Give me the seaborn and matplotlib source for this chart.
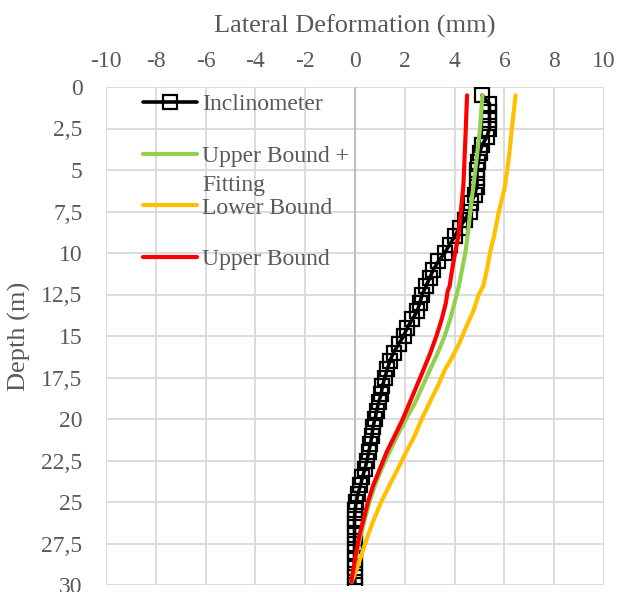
import matplotlib
matplotlib.use("Agg")
import matplotlib.pyplot as plt
import seaborn as sns
import pandas as pd
from matplotlib.lines import Line2D

# ---------------- data ----------------
incl_depth = [0.5, 1.0, 1.5, 2.0, 2.5, 3.0, 3.5, 4.0, 4.5, 5.0, 5.5, 6.0, 6.5, 7.0, 7.5,
              8.0, 8.5, 9.0, 9.5, 10.0, 10.5, 11.0, 11.5, 12.0, 12.5, 13.0, 13.5, 14.0,
              14.5, 15.0, 15.5, 16.0, 16.5, 17.0, 17.5, 18.0, 18.5, 19.0, 19.5, 20.0,
              20.5, 21.0, 21.5, 22.0, 22.5, 23.0, 23.5, 24.0, 24.5, 25.0, 25.5, 26.0,
              26.5, 27.0, 27.5, 28.0, 28.5, 29.0, 29.5, 30.0]
incl_x = [5.1, 5.4, 5.4, 5.4, 5.4, 5.3, 5.1, 5.0, 4.95, 4.9, 4.9, 4.9, 4.8, 4.65, 4.6,
          4.4, 4.2, 4.0, 3.8, 3.6, 3.35, 3.15, 3.0, 2.85, 2.7, 2.6, 2.5, 2.3,
          2.1, 1.95, 1.75, 1.55, 1.4, 1.3, 1.2, 1.1, 1.05, 0.95, 0.87, 0.8,
          0.72, 0.68, 0.62, 0.55, 0.48, 0.4, 0.3, 0.22, 0.12, 0.05, 0.0, -0.02,
          -0.02, -0.02, -0.02, -0.02, -0.02, -0.02, -0.02, 0.0]

green_depth = [0.5, 2.5, 5, 6, 7.5, 9, 10, 11, 12, 13, 14, 15, 16, 17, 18, 19, 20,
               21, 22, 23, 24, 25, 26, 27, 28, 29, 29.8]
green_x = [5.12, 5.02, 4.83, 4.75, 4.63, 4.52, 4.43, 4.3, 4.17, 4.0, 3.82, 3.6, 3.33,
           3.02, 2.72, 2.42, 2.05, 1.7, 1.38, 1.07, 0.8, 0.58, 0.4, 0.23, 0.08, -0.05, -0.15]

orange_depth = [0.5, 2.5, 4, 6, 7.5, 9, 10, 11, 12, 12.5, 13.5, 14.5, 15.5, 16.5, 17,
                18, 19, 20, 21, 22, 23, 24, 25, 26, 27, 28, 29, 29.8]
orange_x = [6.45, 6.3, 6.2, 6.02, 5.78, 5.58, 5.42, 5.3, 5.15, 4.97, 4.75, 4.45, 4.17,
            3.82, 3.62, 3.33, 3.0, 2.68, 2.4, 2.05, 1.72, 1.38, 1.05, 0.77, 0.52, 0.3,
            0.08, -0.13]

red_depth = [0.5, 2.5, 5, 6, 7.5, 9, 10, 11, 12, 12.3, 13, 14, 15, 16, 17, 18, 19, 20,
             21, 22, 23, 24, 25, 26, 27, 28, 29, 29.8]
red_x = [4.5, 4.45, 4.38, 4.35, 4.25, 4.15, 4.02, 3.9, 3.8, 3.72, 3.65, 3.48, 3.27,
         3.03, 2.76, 2.48, 2.2, 1.92, 1.6, 1.27, 1.0, 0.73, 0.52, 0.35, 0.18, 0.05,
         -0.06, -0.15]

x_ticks = [-10, -8, -6, -4, -2, 0, 2, 4, 6, 8, 10]
x_ticklabels = ["-10", "-8", "-6", "-4", "-2", "0", "2", "4", "6", "8", "10"]
y_ticks = [0, 2.5, 5, 7.5, 10, 12.5, 15, 17.5, 20, 22.5, 25, 27.5, 30]
y_ticklabels = ["0", "2,5", "5", "7,5", "10", "12,5", "15", "17,5", "20", "22,5",
                "25", "27,5", "30"]

labels = ["Inclinometer", "Upper Bound +", "Lower Bound", "Upper Bound"]

# ---------------- style ----------------
sns.set_style("white")
plt.rcParams['font.family'] = ['Liberation Serif', 'DejaVu Serif']
TXT = "#595959"
GRID = "#d9d9d9"

fig = plt.figure(figsize=(6.17, 5.92), dpi=100)
ax = fig.add_axes([106/617, 1 - 585/592, 498/617, 498/592])

df_i = pd.DataFrame({"x": incl_x, "depth": incl_depth})
df_g = pd.DataFrame({"x": green_x, "depth": green_depth})
df_o = pd.DataFrame({"x": orange_x, "depth": orange_depth})
df_r = pd.DataFrame({"x": red_x, "depth": red_depth})

ax.axvline(0, color="#bfbfbf", lw=1.5, zorder=1)

sns.lineplot(data=df_i, x="x", y="depth", sort=False, estimator=None, ax=ax,
             color="black", lw=2.6, marker="s", markersize=9.5,
             markerfacecolor="none", markeredgecolor="black", markeredgewidth=1.6,
             zorder=3)
sns.lineplot(data=df_g, x="x", y="depth", sort=False, estimator=None, ax=ax,
             color="#92D050", lw=3, zorder=4)
sns.lineplot(data=df_o, x="x", y="depth", sort=False, estimator=None, ax=ax,
             color="#FFC000", lw=3, zorder=4)
sns.lineplot(data=df_r, x="x", y="depth", sort=False, estimator=None, ax=ax,
             color="#FF0000", lw=3, zorder=5)

ax.set_xlim(-10, 10)
ax.set_ylim(30, 0)
ax.set_xticks(x_ticks)
ax.set_xticklabels(x_ticklabels)
ax.set_yticks(y_ticks)
ax.set_yticklabels(y_ticklabels)
ax.xaxis.tick_top()
ax.xaxis.set_label_position("top")
ax.tick_params(axis="both", length=0, labelsize=17, labelcolor=TXT)
ax.tick_params(axis="x", pad=10.7)
ax.tick_params(axis="y", pad=17)
for s in ax.spines.values():
    s.set_visible(False)
ax.grid(True, color=GRID, lw=1.3, zorder=0)
ax.set_axisbelow(True)

ax.set_xlabel("Lateral Deformation (mm)", fontsize=19, color=TXT, labelpad=13.3)
ax.set_ylabel("Depth (m)", fontsize=19, color=TXT, labelpad=7.6)

handles = [
    Line2D([], [], color="black", lw=2.6, marker="s", markersize=9.5,
           markerfacecolor="none", markeredgecolor="black", markeredgewidth=1.6),
    Line2D([], [], color="#92D050", lw=3),
    Line2D([], [], color="#FFC000", lw=3),
    Line2D([], [], color="#FF0000", lw=3),
]
leg = ax.legend(handles, labels, loc="upper left", bbox_to_anchor=(0.074, 0.986),
                frameon=False, fontsize=17, labelcolor=TXT, handlelength=2.3,
                handletextpad=0.22, labelspacing=1.27, borderpad=0, borderaxespad=0)
ax.text(0.193, 0.803, "Fitting", transform=ax.transAxes, fontsize=17, color=TXT,
        ha="left", va="center")

fig.savefig("out.png", dpi=100)
